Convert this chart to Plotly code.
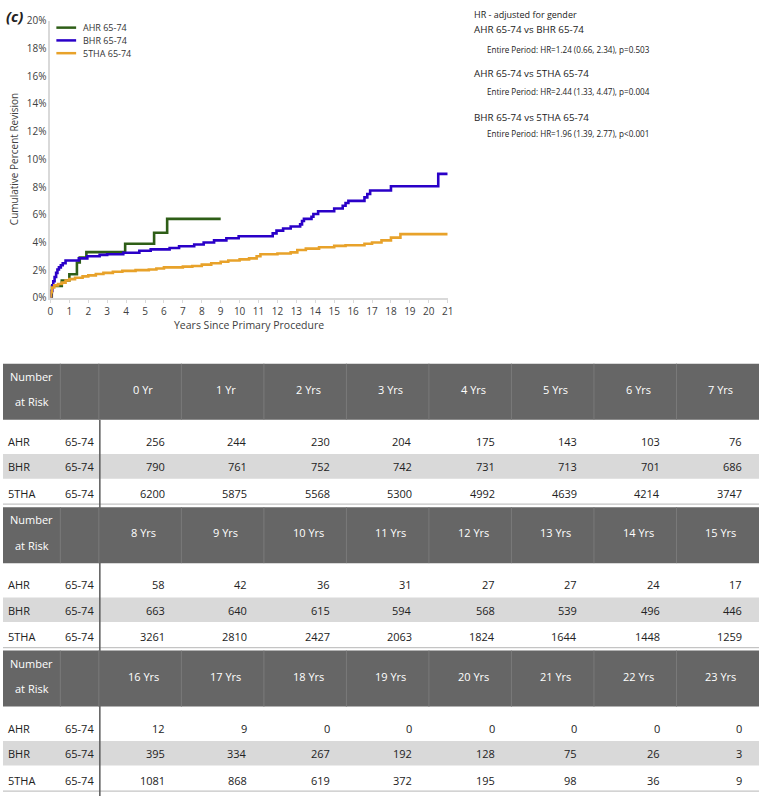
import plotly.graph_objects as go

W, H = 765, 803

# ---------------- data ----------------
series_names = ["AHR 65-74", "BHR 65-74", "5THA 65-74"]
series_colors = ["#2E5E17", "#2A00C8", "#E8A22A"]

ahr_years = [0, 0.07, 0.6, 1.0, 1.4, 1.55, 1.9, 3.95, 5.48, 6.17, 9.0]
ahr_pct = [0, 0.85, 1.25, 1.7, 2.55, 2.9, 3.3, 3.9, 4.7, 5.7, 5.7]

bhr_years = [0, 0.04, 0.1, 0.15, 0.22, 0.3, 0.37, 0.45, 0.55, 0.65, 0.8, 1.5, 1.95,
             2.6, 3.0, 3.85, 4.7, 5.3, 6.3, 6.8, 7.6, 8.1, 8.65, 9.3, 9.95, 11.75,
             11.95, 12.3, 12.7, 13.2, 13.3, 13.4, 13.8, 13.9, 14.15, 15.0, 15.45,
             15.6, 15.75, 16.6, 16.75, 16.9, 18.0, 20.5, 21.0]
bhr_pct = [0, 0.5, 0.9, 1.2, 1.5, 1.8, 2.05, 2.2, 2.35, 2.5, 2.7, 2.85, 3.0,
           3.1, 3.15, 3.25, 3.4, 3.5, 3.6, 3.72, 3.85, 4.0, 4.15, 4.3, 4.45, 4.65,
           4.85, 5.0, 5.15, 5.3, 5.55, 5.7, 5.85, 6.05, 6.25, 6.45, 6.65,
           6.85, 7.0, 7.25, 7.5, 7.75, 8.05, 8.95, 8.95]

tha_years = [0, 0.03, 0.08, 0.2, 0.4, 0.6, 0.8, 1.0, 1.3, 1.7, 2.0, 2.4, 2.8, 3.3,
             3.8, 4.5, 5.2, 5.6, 6.0, 7.0, 7.5, 8.0, 8.5, 9.0, 9.4, 10.0, 10.5,
             10.9, 11.1, 12.0, 12.7, 13.05, 13.5, 14.2, 15.0, 15.6, 16.6, 17.0,
             17.5, 18.0, 18.5, 21.0]
tha_pct = [0, 0.4, 0.75, 0.9, 1.0, 1.1, 1.25, 1.35, 1.45, 1.55, 1.62, 1.72, 1.8, 1.88,
           1.95, 2.0, 2.05, 2.12, 2.2, 2.25, 2.3, 2.4, 2.5, 2.6, 2.7, 2.78, 2.85,
           3.0, 3.15, 3.2, 3.28, 3.45, 3.55, 3.65, 3.75, 3.8, 3.9, 4.0,
           4.15, 4.35, 4.6, 4.6]

y_ticks = list(range(0, 21, 2))
x_ticks = list(range(0, 22))

hr_title = "HR - adjusted for gender"
hr_comparisons = ["AHR 65-74 vs BHR 65-74", "AHR 65-74 vs 5THA 65-74", "BHR 65-74 vs 5THA 65-74"]
hr_details = ["Entire Period: HR=1.24 (0.66, 2.34), p=0.503",
              "Entire Period: HR=2.44 (1.33, 4.47), p=0.004",
              "Entire Period: HR=1.96 (1.39, 2.77), p<0.001"]

risk_years = ["0 Yr", "1 Yr", "2 Yrs", "3 Yrs", "4 Yrs", "5 Yrs", "6 Yrs", "7 Yrs",
              "8 Yrs", "9 Yrs", "10 Yrs", "11 Yrs", "12 Yrs", "13 Yrs", "14 Yrs", "15 Yrs",
              "16 Yrs", "17 Yrs", "18 Yrs", "19 Yrs", "20 Yrs", "21 Yrs", "22 Yrs", "23 Yrs"]
risk_groups = ["AHR", "BHR", "5THA"]
risk_age = "65-74"
risk_ahr = [256, 244, 230, 204, 175, 143, 103, 76, 58, 42, 36, 31, 27, 27, 24, 17,
            12, 9, 0, 0, 0, 0, 0, 0]
risk_bhr = [790, 761, 752, 742, 731, 713, 701, 686, 663, 640, 615, 594, 568, 539, 496, 446,
            395, 334, 267, 192, 128, 75, 26, 3]
risk_tha = [6200, 5875, 5568, 5300, 4992, 4639, 4214, 3747, 3261, 2810, 2427, 2063, 1824,
            1644, 1448, 1259, 1081, 868, 619, 372, 195, 98, 36, 9]

# ---------------- figure ----------------
FONT = "Open Sans"
fig = go.Figure()

for name, xs, ys, col in zip(series_names, [ahr_years, bhr_years, tha_years],
                             [ahr_pct, bhr_pct, tha_pct], series_colors):
    fig.add_trace(go.Scatter(x=xs, y=ys, mode="lines", name=name,
                             line=dict(color=col, width=2.6, shape="hv"),
                             showlegend=False))


def px(x):
    return x / W


def py(y):
    return 1 - y / H


X0, X1, Y0, Y1 = 48, 450, 14, 296

fig.update_layout(
    width=W, height=H, margin=dict(l=0, r=0, t=0, b=0),
    paper_bgcolor="white", plot_bgcolor="white",
    font=dict(family=FONT, color="#222222"),
    xaxis=dict(domain=[px(X0), px(X1)], range=[0, 21], tickvals=x_ticks,
               showline=True, linecolor="#d9d9d9", linewidth=2, ticks="outside",
               ticklen=3, tickcolor="#d9d9d9", showgrid=False, zeroline=False,
               tickfont=dict(size=10, color="#404040")),
    yaxis=dict(domain=[py(Y1), py(Y0)], range=[0, 20], tickvals=y_ticks,
               ticktext=[f"{v}%" for v in y_ticks],
               showline=True, linecolor="#d9d9d9", linewidth=2, ticks="",
               showgrid=False, zeroline=False,
               tickfont=dict(size=10, color="#404040")),
)

ann = []
shapes = []


def text(x, y, s, size, color="#222222", xanchor="left", **kw):
    ann.append(dict(x=px(x), y=py(y), xref="paper", yref="paper", text=s,
                    showarrow=False, xanchor=xanchor, yanchor="middle",
                    font=dict(size=size, color=color, family=FONT), **kw))


text(1, 9, "<b><i>(c)</i></b>", 15, color="#222222")
text(11, (Y0 + Y1) / 2, "Cumulative Percent Revision", 10, color="#404040",
     xanchor="center", textangle=-90)
text((X0 + X1) / 2, 324, "Years Since Primary Procedure", 10.5, color="#404040",
     xanchor="center")

# legend
for i, (name, col) in enumerate(zip(series_names, series_colors)):
    yy = 21 + 13 * i
    shapes.append(dict(type="line", xref="paper", yref="paper", x0=px(54), x1=px(74),
                       y0=py(yy), y1=py(yy), line=dict(color=col, width=2.5)))
    text(79, yy, name, 9, color="#333333")

# HR block
text(475, 8, hr_title, 9)
for i, (c, d) in enumerate(zip(hr_comparisons, hr_details)):
    text(475, 23 + 44.5 * i, c, 9.8)
    text(488, 43 + 43 * i, d, 8.1)

# ---------------- number at risk table ----------------
risk_rows = [risk_ahr, risk_bhr, risk_tha]
COL0, COL1, COLW = 58, 97, 83.5
HEADER_H = 57
row_y = [79, 105, 132]
blocks = 3
per_block = 8

for b in range(blocks):
    T = 363 + 146 * b
    shapes.append(dict(type="rect", xref="paper", yref="paper", x0=0, x1=1,
                       y0=py(T + 117), y1=py(T + 92), fillcolor="#d9d9d9",
                       line=dict(width=0), layer="below"))
    shapes.append(dict(type="line", xref="paper", yref="paper", x0=0, x1=1,
                       y0=py(T + 143), y1=py(T + 143),
                       line=dict(color="#c4c4c4", width=1.2)))

shapes.append(dict(type="line", xref="paper", yref="paper", x0=px(98), x1=px(98),
                   y0=py(420), y1=py(803), line=dict(color="#5a5a5a", width=1.5)))

for b in range(blocks):
    T = 363 + 146 * b
    shapes.append(dict(type="rect", xref="paper", yref="paper", x0=0, x1=1,
                       y0=py(T + HEADER_H), y1=py(T), fillcolor="#666666",
                       line=dict(width=0)))
    divs = [COL0, COL1] + [COL1 + COLW * k for k in range(1, per_block)]
    for dx in divs:
        shapes.append(dict(type="line", xref="paper", yref="paper", x0=px(dx), x1=px(dx),
                           y0=py(T + HEADER_H), y1=py(T),
                           line=dict(color="#7a7a7a", width=1)))
    text(29, T + 13, "Number", 11, color="white", xanchor="center")
    text(29, T + 39, "at Risk", 11, color="white", xanchor="center")
    for k in range(per_block):
        idx = b * per_block + k
        cx = COL1 + COLW * (k + 0.5) + 3
        text(cx, T + 26, risk_years[idx], 11, color="white", xanchor="center")
        for r in range(3):
            text(COL1 + COLW * (k + 1) - 15, T + row_y[r], str(risk_rows[r][idx]), 11,
                 color="#222222", xanchor="right")
    for r in range(3):
        text(3, T + row_y[r], risk_groups[r], 11)
        text(61, T + row_y[r], risk_age, 11)

fig.update_layout(annotations=ann, shapes=shapes)
fig.write_html("out.html")
